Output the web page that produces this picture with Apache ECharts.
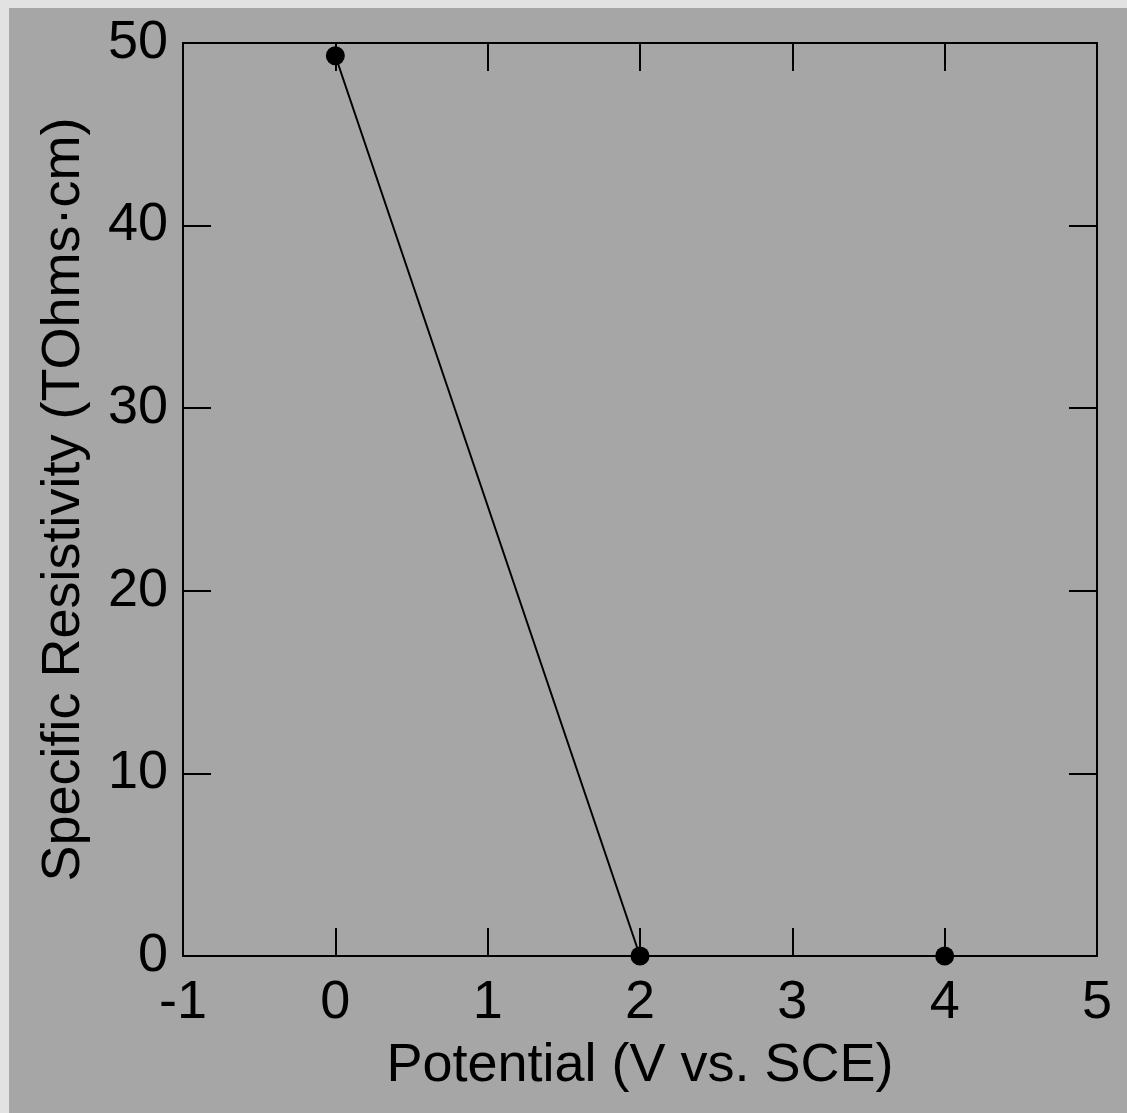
<!DOCTYPE html>
<html>
<head>
<meta charset="utf-8">
<script src="https://cdn.jsdelivr.net/npm/echarts@6/dist/echarts.min.js"></script>
<style>
html,body{margin:0;padding:0;background:#e2e2e2;}
#bg{position:absolute;left:9px;top:8px;width:1118px;height:1105px;background:#a6a6a6;}
#c{position:absolute;left:0;top:0;width:1127px;height:1113px;}
</style>
</head>
<body>
<div id="bg"></div>
<div id="c"></div>
<script>
const potential = [0, 2, 4];
const resistivity = [49.3, 0, 0];
const xTicks = [-1, 0, 1, 2, 3, 4, 5];
const yTicks = [0, 10, 20, 30, 40, 50];

const chart = echarts.init(document.getElementById('c'), null, {renderer: 'canvas'});
const font = 'Liberation Sans, Arial, sans-serif';
const fs = 54;
const axisLine = {show: true, onZero: false, lineStyle: {color: '#000', width: 2}};
const axisTick = {show: true, inside: true, length: 28, lineStyle: {color: '#000', width: 2}};

chart.setOption({
  backgroundColor: 'transparent',
  animation: false,
  grid: {left: 183, right: 30, top: 43, bottom: 157, containLabel: false},
  xAxis: [
    {type: 'value', position: 'bottom', min: xTicks[0], max: xTicks[xTicks.length-1], interval: 1,
     name: 'Potential (V vs. SCE)', nameLocation: 'middle', nameGap: 83, nameMoveOverlap: false,
     nameTextStyle: {fontFamily: font, fontSize: fs, color: '#000'},
     axisLine: axisLine, axisTick: axisTick, splitLine: {show: false},
     axisLabel: {fontFamily: font, fontSize: fs, color: '#000', margin: 20}},
    {type: 'value', position: 'top', min: xTicks[0], max: xTicks[xTicks.length-1], interval: 1,
     axisLine: axisLine, axisTick: axisTick, splitLine: {show: false}, axisLabel: {show: false}}
  ],
  yAxis: [
    {type: 'value', position: 'left', min: yTicks[0], max: yTicks[yTicks.length-1], interval: 10,
     name: 'Specific Resistivity (TOhms·cm)', nameLocation: 'middle', nameGap: 92, nameMoveOverlap: false,
     nameTextStyle: {fontFamily: font, fontSize: fs, color: '#000'},
     axisLine: axisLine, axisTick: axisTick, splitLine: {show: false},
     axisLabel: {fontFamily: font, fontSize: fs, color: '#000', margin: 15}},
    {type: 'value', position: 'right', min: yTicks[0], max: yTicks[yTicks.length-1], interval: 10,
     axisLine: axisLine, axisTick: axisTick, splitLine: {show: false}, axisLabel: {show: false}}
  ],
  series: [{
    type: 'line',
    xAxisIndex: 0, yAxisIndex: 0,
    data: potential.map((x, i) => [x, resistivity[i]]),
    symbol: 'circle', symbolSize: 19,
    clip: false,
    lineStyle: {color: '#000', width: 2},
    itemStyle: {color: '#000'}
  }]
});
</script>
</body>
</html>
